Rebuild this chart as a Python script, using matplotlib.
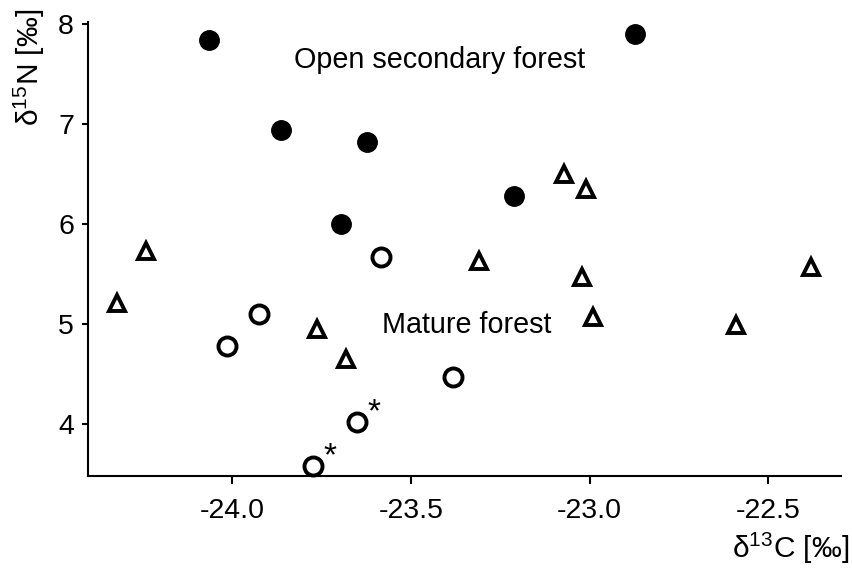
import numpy as np
import matplotlib
matplotlib.use("Agg")
import matplotlib.pyplot as plt

plt.rcParams["font.family"] = ["Liberation Sans", "DejaVu Sans"]
plt.rcParams["mathtext.fontset"] = "custom"
plt.rcParams["mathtext.rm"] = "Liberation Sans"

# open secondary forest (filled circles)
osf_d13c = [-24.064, -23.863, -23.622, -23.695, -23.211, -22.873]
osf_d15n = [7.84, 6.94, 6.82, 6.00, 6.28, 7.90]

# mature forest, group 1 (open circles)
mf1_d13c = [-23.583, -23.924, -24.014, -23.382, -23.650, -23.773]
mf1_d15n = [5.67, 5.10, 4.78, 4.47, 4.02, 3.58]
mf1_flag = [False, False, False, False, True, True]

# mature forest, group 2 (open triangles)
mf2_d13c = [-24.241, -24.322, -23.762, -23.681, -23.309, -23.071,
            -23.010, -23.021, -22.990, -22.590, -22.380]
mf2_d15n = [5.73, 5.21, 4.95, 4.65, 5.63, 6.50, 6.35, 5.47, 5.07, 4.99, 5.57]

xticks = [-24.0, -23.5, -23.0, -22.5]
yticks = [4, 5, 6, 7, 8]

fig = plt.figure(figsize=(8.53, 5.69), dpi=100)
ax = fig.add_axes([0.103, 0.1634, 0.883, 0.7976])

ax.plot(osf_d13c, osf_d15n, "o", ms=14, color="black", mec="black", clip_on=False)
ax.plot(mf1_d13c, mf1_d15n, "o", ms=13, mfc="white", mec="black", mew=2.8, clip_on=False)
ax.plot(mf2_d13c, mf2_d15n, "^", ms=11.5, mfc="white", mec="black", mew=2.8, clip_on=False)

for x, y, f in zip(mf1_d13c, mf1_d15n, mf1_flag):
    if f:
        ax.annotate("*", (x, y), xytext=(12, 7), textcoords="offset points",
                    ha="center", va="center", fontsize=24)

ax.text(-23.421, 7.56, "Open secondary forest", ha="center", va="baseline", fontsize=20.7)
ax.text(-23.343, 4.91, "Mature forest", ha="center", va="baseline", fontsize=20.7)

ax.set_xlim(-24.403, -22.297)
ax.set_ylim(3.48, 8.02)
ax.set_xticks(xticks)
ax.set_yticks(yticks)
ax.tick_params(axis="x", length=6, width=1.5, labelsize=20.5, pad=10)
ax.tick_params(axis="y", length=4, width=1.5, labelsize=20.5, pad=6)
for s in ["top", "right"]:
    ax.spines[s].set_visible(False)
for s in ["left", "bottom"]:
    ax.spines[s].set_linewidth(1.5)

# plain hyphen in the tick labels
ax.set_xticklabels([f"{t:.1f}" for t in xticks])

fig.text(0.996, 0.036, "δ$^{13}$C [‰]", ha="right", va="center", fontsize=21.5)
fig.text(0.034, 0.985, "δ$^{15}$N [‰]", ha="center", va="top", rotation=90, fontsize=21.5)

fig.savefig("out.png", dpi=100)
